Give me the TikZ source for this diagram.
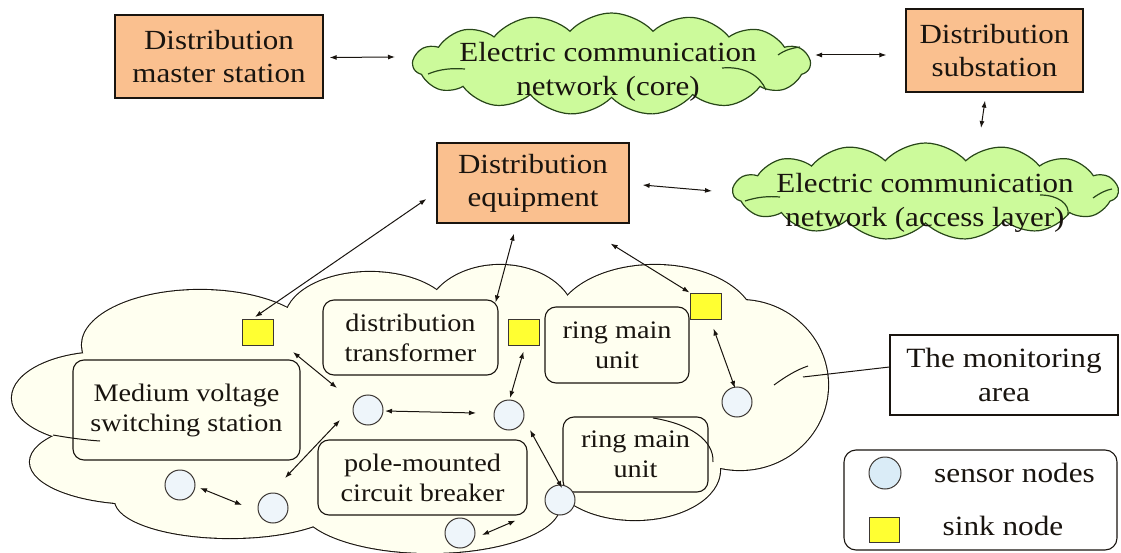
\documentclass[tikz,border=0pt]{standalone}
\usepackage{fontspec}
\setmainfont{Liberation Serif}[FakeStretch=1.12]
\usetikzlibrary{arrows.meta,shapes.symbols,calc}

\definecolor{boxorange}{RGB}{250,192,143}
\definecolor{cloudgreen}{RGB}{204,250,155}
\definecolor{cloudline}{RGB}{40,70,25}
\definecolor{cream}{RGB}{255,255,240}
\definecolor{sinkyellow}{RGB}{255,255,50}
\definecolor{sensorfill}{RGB}{238,245,250}
\definecolor{legendblue}{RGB}{218,236,247}
\definecolor{ink}{RGB}{25,20,15}

\tikzset{
  topbox/.style={draw=ink, line width=1.2pt, fill=boxorange, align=center,
    font=\fontsize{27.7}{33}\selectfont, text=ink, inner sep=0pt},
  greencloud/.style={cloud, cloud puffs=15, cloud puff arc=95, cloud ignores aspect,
    draw=cloudline, line width=1.2pt, fill=cloudgreen, inner sep=0pt},
  cloudtext/.style={align=center, font=\fontsize{27.7}{34}\selectfont, text=ink, inner sep=0pt},
  roundbox/.style={draw=ink, line width=1.1pt, rounded corners=11pt, align=center,
    font=\fontsize{25.2}{30}\selectfont, text=ink, inner sep=0pt},
  sinkbox/.style={draw=ink!85, line width=1pt, fill=sinkyellow, minimum width=31pt,
    minimum height=26pt, inner sep=0pt},
  sensor/.style={circle, draw=ink!85, line width=1pt, fill=sensorfill, minimum size=30pt, inner sep=0pt},
  bi/.style={{Latex[length=7pt,width=5pt]}-{Latex[length=7pt,width=5pt]}, line width=1pt, draw=ink},
  plainline/.style={line width=1pt, draw=ink},
  curl/.style={line width=1.2pt, draw=cloudline},
  labeltext/.style={font=\fontsize{27.9}{34}\selectfont, text=ink, align=center, inner sep=0pt}
}

\begin{document}
\begin{tikzpicture}[x=1pt,y=-1pt]
\useasboundingbox (0,0) rectangle (1121,553);

% ---------- monitoring area cloud (union of lobes) ----------
\foreach \cx/\cy/\rx/\ry in {200/345/118/55, 370/320/85/48, 500/320/75/55, 655/325/100/60,
  740/385/88/85, 635/470/85/50, 430/505/130/48, 230/500/115/38, 140/462/110/42, 105/398/93/46}
  \draw[line width=2.2pt, draw=ink] (\cx,\cy) ellipse [x radius=\rx pt, y radius=\ry pt];
\foreach \cx/\cy/\rx/\ry in {200/345/118/55, 370/320/85/48, 500/320/75/55, 655/325/100/60,
  740/385/88/85, 635/470/85/50, 430/505/130/48, 230/500/115/38, 140/462/110/42, 105/398/93/46}
  \fill[cream] (\cx,\cy) ellipse [x radius=\rx pt, y radius=\ry pt];
\fill[cream] (420,410) ellipse [x radius=300pt, y radius=90pt];
% inner arcs of the cloud
\draw[plainline] (653,418) .. controls (690,424) and (714,440) .. (713,462);
\draw[plainline] (774,385) .. controls (785,377) and (796,370) .. (808,366);
\draw[plainline] (53,435) .. controls (70,438) and (85,440) .. (100,441);

% ---------- top row ----------
\node[topbox, minimum width=208pt, minimum height=83pt] (master) at (219,56.5)
  {Distribution\\master station};
\node[greencloud, minimum width=397pt, minimum height=102pt] (core) at (611.5,64) {};
\draw[curl] (428,74) .. controls (440,69) and (452,68) .. (465,69);
\draw[curl] (722,68) .. controls (745,66) and (760,76) .. (766,90);
\draw[curl] (778,55) .. controls (785,50) and (792,48) .. (800,47);
\node[cloudtext] (coretext) at (608,72) {Electric communication\\network (core)};
\node[topbox, minimum width=177pt, minimum height=83pt] (sub) at (994.5,50.5)
  {Distribution\\substation};
\node[topbox, minimum width=192pt, minimum height=80pt] (equip) at (533,183)
  {Distribution\\equipment};
\node[greencloud, minimum width=385pt, minimum height=97pt] (access) at (925.5,191.5) {};
\draw[curl] (745,201) .. controls (757,197) and (768,196) .. (780,197);
\draw[curl] (1040,195) .. controls (1058,195) and (1070,204) .. (1068,215);
\draw[curl] (1093,198) .. controls (1100,193) and (1106,190) .. (1112,189);
\node[cloudtext] (accesstext) at (925,203) {Electric communication\\network (access layer)};

% ---------- boxes in the monitoring area ----------
\node[roundbox, minimum width=227pt, minimum height=100pt] (medium) at (186.5,410)
  {Medium voltage\\switching station};
\node[roundbox, minimum width=175pt, minimum height=75pt] (trans) at (410.5,337.5)
  {distribution\\transformer};
\node[roundbox, minimum width=144pt, minimum height=76pt] (rmu1) at (617,345)
  {ring main\\unit};
\node[roundbox, minimum width=209pt, minimum height=75pt] (pole) at (422.5,477.5)
  {pole-mounted\\circuit breaker};
\node[roundbox, minimum width=145pt, minimum height=75pt] (rmu2) at (635.5,454.5)
  {ring main\\unit};

% sink nodes
\node[sinkbox] (S1) at (258,332.5) {};
\node[sinkbox] (S2) at (523.5,332) {};
\node[sinkbox] (S3) at (705.5,306) {};
% sensor nodes
\node[sensor] (A) at (368,410) {};
\node[sensor] (B) at (509,415) {};
\node[sensor] (C) at (180,485) {};
\node[sensor] (D) at (273,508) {};
\node[sensor] (E) at (560,500) {};
\node[sensor] (F) at (460,533) {};
\node[sensor] (G) at (737,402) {};

% ---------- monitoring label and legend ----------
\node[draw=ink, line width=1.1pt, minimum width=228pt, minimum height=80pt, labeltext]
  (mon) at (1004,375) {The monitoring\\area};
\coordinate (monend) at (803,377);
\node[draw=ink, line width=1.1pt, rounded corners=12pt, minimum width=273pt,
  minimum height=100pt] (legend) at (980.5,500) {};
\node[circle, draw=ink!85, line width=1pt, fill=legendblue, minimum size=32pt, inner sep=0pt]
  (legsensor) at (885,473) {};
\node[labeltext] (legsensortext) at (1014.5,473) {sensor nodes};
\node[draw=ink!85, line width=1pt, fill=sinkyellow, minimum width=30pt, minimum height=25pt,
  inner sep=0pt] (legsink) at (884,529.5) {};
\node[labeltext] (legsinktext) at (1003,526) {sink node};

% ---------- connectors ----------
\draw[bi] ($(master.east)+(6,1)$) -- ($(core.center)+(-216.5,-7)$);
\draw[bi] ($(core.center)+(203.5,-9)$) -- ($(sub.west)+(-19,4.5)$);
\draw[bi] ($(sub.south)+(-9.5,8)$) -- ($(access.center)+(55.5,-63.5)$);
\draw[bi] ($(equip.east)+(13,2)$) -- ($(access.center)+(-213.5,-0.5)$);
\draw[bi] ($(equip.west)+(-10,16)$) -- ($(S1.north)+(-3,-2)$);
\draw[bi] ($(equip.south)+(-19,10)$) -- ($(trans.north east)+(-3,3)$);
\draw[bi] ($(equip.south east)+(-19,20)$) -- (S3.north west);
\draw[bi] ($(S1.south east)+(19,6)$) -- ($(A)+(-31,-22)$);
\draw[bi] ($(A)+(17,1)$) -- ($(B)+(-33,-2)$);
\draw[bi] ($(A)+(-28,10)$) -- ($(D)+(12,-30)$);
\draw[bi] ($(C)+(20,3)$) -- ($(D)+(-31,-3)$);
\draw[bi] ($(B)+(1,-17)$) -- ($(S2.south)+(0,6)$);
\draw[bi] ($(B)+(21,15)$) -- ($(E)+(2,-12)$);
\draw[bi] ($(F)+(22,2)$) -- ($(pole.south east)+(-12,5)$);
\draw[bi] ($(S3.south)+(8,9)$) -- ($(G)+(-2,-14)$);
\draw[plainline] ($(mon.west)+(0,-8)$) -- (monend);
\end{tikzpicture}
\end{document}
